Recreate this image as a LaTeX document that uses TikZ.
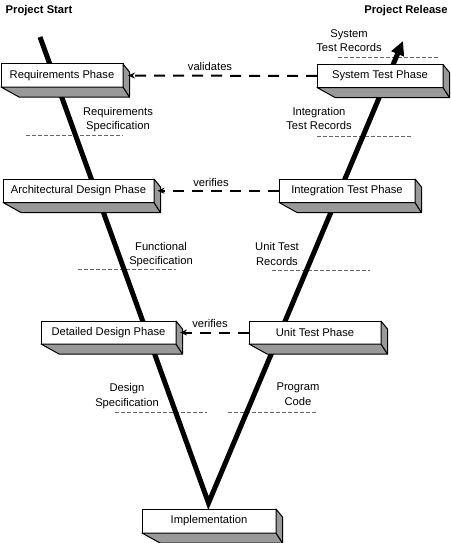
\documentclass[tikz,border=0pt]{standalone}
\usepackage{fontspec}
\setmainfont{Liberation Sans}
\usetikzlibrary{arrows.meta,calc}
\newcommand\boxsides[1]{%
  \draw[sideface] (#1.south west) -- ++(18,10) -- ($(#1.south east)+(6.5,10)$) -- (#1.south east) -- cycle;
  \draw[sideface] (#1.north east) -- ++(6.5,8) -- ($(#1.south east)+(6.5,10)$) -- (#1.south east) -- cycle;
}
\begin{document}
\begin{tikzpicture}[x=1pt,y=-1pt,
  every node/.style={font=\fontsize{11.2}{14.5}\selectfont},
  phase/.style={draw=black, line width=1pt, fill=white, inner sep=0pt, outer sep=0pt, anchor=north west},
  sideface/.style={draw=black, line width=1pt, fill=black!40, line join=round},
  vline/.style={line width=5pt, line join=miter, -{Triangle[length=14pt,width=13pt]}},
  rel/.style={line width=2pt, dash pattern=on 11pt off 8pt, -{Stealth[length=7pt,width=6pt]}},
  guide/.style={draw=black!60, line width=0.8pt, dash pattern=on 3.5pt off 2.5pt},
  lbl/.style={align=center, inner sep=0pt},
  title/.style={font=\fontsize{11.2}{14}\selectfont\bfseries, inner sep=0pt}
]
\useasboundingbox (0,0) rectangle (450,543);

% guide lines
\draw[guide] (26,135) -- (123,135);
\draw[guide] (317,136) -- (413,136);
\draw[guide] (338,57) -- (438,57);
\draw[guide] (78,269) -- (176,269);
\draw[guide] (272,270) -- (370,270);
\draw[guide] (115,412) -- (207,412);
\draw[guide] (228,412) -- (318,412);

% V line
\coordinate (vtop) at (40,37);
\coordinate (vbot) at (208.5,503);
\coordinate (vend) at (403,41);
\draw[vline] (vtop) -- (vbot) -- (vend);

% phase boxes
\node[phase, minimum width=122pt, minimum height=23pt] (req) at (1,64) {Requirements Phase};
\boxsides{req}
\node[phase, minimum width=126pt, minimum height=23pt] (sys) at (317,64.5) {System Test Phase};
\boxsides{sys}
\node[phase, minimum width=151pt, minimum height=23.5pt] (arch) at (3,179) {Architectural Design Phase};
\boxsides{arch}
\node[phase, minimum width=136pt, minimum height=23.5pt] (integ) at (279,179) {Integration Test Phase};
\boxsides{integ}
\node[phase, minimum width=135pt, minimum height=23pt] (det) at (41,321) {Detailed Design Phase};
\boxsides{det}
\node[phase, minimum width=132pt, minimum height=23pt] (unit) at (249,321) {Unit Test Phase};
\boxsides{unit}
\node[phase, minimum width=134pt, minimum height=24pt] (impl) at (142,509) {Implementation};
\boxsides{impl}

% relations
\draw[rel] (sys.west) -- ($(req.east)+(5,0)$);
\draw[rel] (integ.west) -- ($(arch.east)+(3.5,0)$);
\draw[rel] (unit.west) -- ($(det.east)+(4,0)$);

% labels
\node[lbl] (lval) at (210,66) {validates};
\node[lbl] (lver1) at (211,182) {verifies};
\node[lbl] (lver2) at (210,323) {verifies};
\node[lbl] (lreq) at (118,119.5) {Requirements\\Specification};
\node[lbl] (lint) at (319,118.5) {Integration\\Test Records};
\node[lbl] (lsys) at (349,40.5) {System\\Test Records};
\node[lbl] (lfun) at (161,254.5) {Functional\\Specification};
\node[lbl] (lunit) at (277,254) {Unit Test\\Records};
\node[lbl] (ldes) at (127,396) {Design\\Specification};
\node[lbl] (lprog) at (298,394) {Program\\Code};
\node[title] (start) at (39,10.2) {Project Start};
\node[title] (release) at (406,10.2) {Project Release};
\end{tikzpicture}
\end{document}
